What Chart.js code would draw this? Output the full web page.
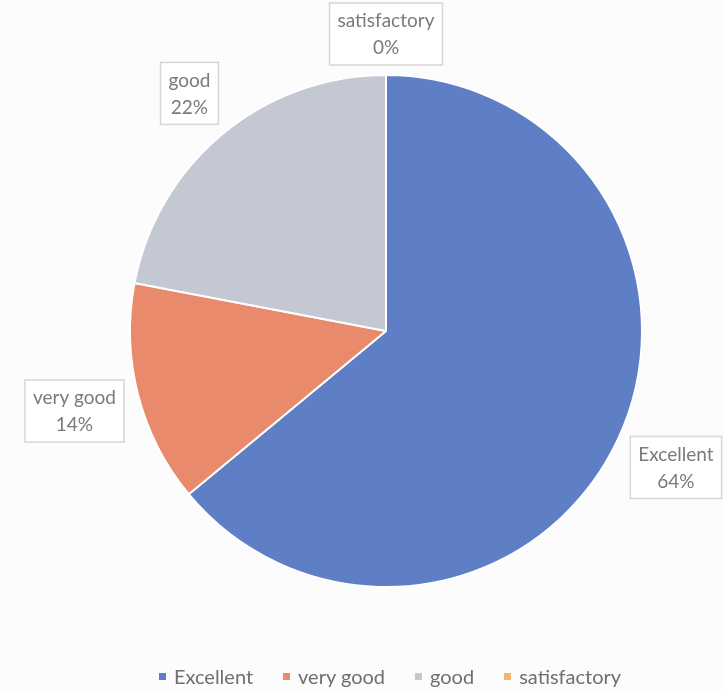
<!DOCTYPE html>
<html>
<head>
<meta charset="utf-8">
<script src="https://cdn.jsdelivr.net/npm/chart.js@4/dist/chart.umd.min.js"></script>
<style>
  body { margin: 0; background: #fcfcfc; }
  #wrap { position: relative; width: 724px; height: 690px; }
  #legend {
    position: absolute; left: 0; right: 0; top: 664px;
    display: flex; justify-content: center; padding-left: 56px;
    font-family: Lato, sans-serif; font-size: 20px; color: #6f6f6f;
  }
  #legend span.item { margin: 0 15px; display: flex; align-items: center; }
  #legend span.box { width: 7px; height: 7px; margin-right: 8px; display: inline-block; }
</style>
</head>
<body>
<div id="wrap">
  <canvas id="ratingPie" width="724" height="690"></canvas>
  <div id="legend"></div>
</div>
<script>
// categories + values (percent)
const categories = ['Excellent', 'very good', 'good', 'satisfactory'];
const shares = [64, 14, 22, 0];
const sliceColors = ['#5e7ec5', '#ea8a6c', '#c4c8d3', '#f5b86a'];

// draws the boxed "name / pct%" labels outside each slice
const outsideLabels = {
  id: 'outsideLabels',
  afterDatasetsDraw(chart) {
    const ctx = chart.ctx;
    const meta = chart.getDatasetMeta(0);
    ctx.save();
    ctx.font = '19px Lato, sans-serif';
    ctx.textAlign = 'center';
    ctx.textBaseline = 'middle';
    meta.data.forEach((arc, i) => {
      const mid = (arc.startAngle + arc.endAngle) / 2;
      const dx = Math.cos(mid), dy = Math.sin(mid);
      const lines = [categories[i], shares[i] + '%'];
      const w = Math.max(...lines.map(t => ctx.measureText(t).width)) + 16;
      const h = 62;
      const d = arc.outerRadius + Math.abs(dx) * w / 2 + Math.abs(dy) * h / 2 + 10;
      const cx = arc.x + dx * d, cy = arc.y + dy * d;
      ctx.fillStyle = '#ffffff';
      ctx.fillRect(cx - w / 2, cy - h / 2, w, h);
      ctx.strokeStyle = '#d6d6d6';
      ctx.lineWidth = 1.5;
      ctx.strokeRect(cx - w / 2, cy - h / 2, w, h);
      ctx.fillStyle = '#7a7a7a';
      ctx.fillText(lines[0], cx, cy - 13);
      ctx.fillText(lines[1], cx, cy + 14);
    });
    ctx.restore();
  }
};

const ratingChart = new Chart(document.getElementById('ratingPie'), {
  type: 'pie',
  data: {
    labels: categories,
    datasets: [{
      data: shares,
      backgroundColor: sliceColors,
      borderColor: '#ffffff',
      borderWidth: 2
    }]
  },
  options: {
    responsive: false,
    animation: false,
    layout: { padding: { left: 129, right: 81, top: 74, bottom: 102 } },
    plugins: {
      legend: { display: false },
      tooltip: { enabled: false }
    }
  },
  plugins: [outsideLabels]
});

// html legend under the pie
const legendEl = document.getElementById('legend');
categories.forEach((name, i) => {
  const item = document.createElement('span');
  item.className = 'item';
  item.innerHTML = '<span class="box" style="background:' + sliceColors[i] + '"></span>' + name;
  legendEl.appendChild(item);
});
</script>
</body>
</html>
